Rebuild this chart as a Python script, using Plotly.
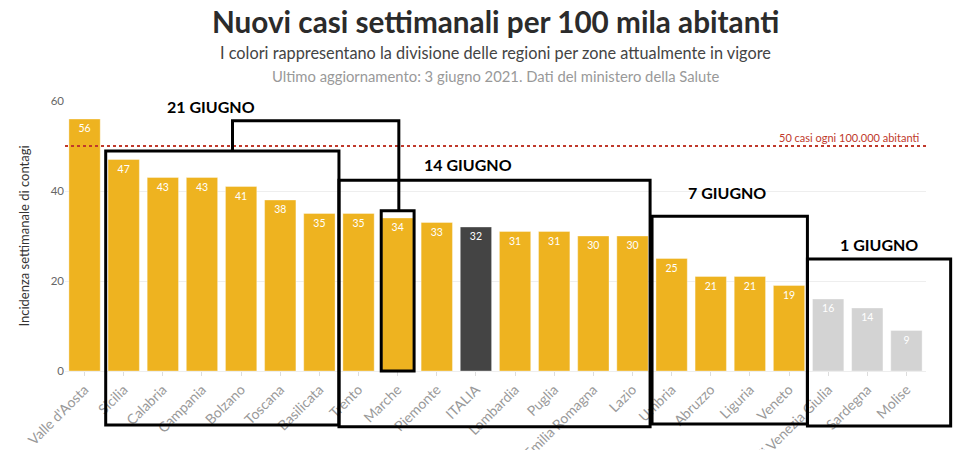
import plotly.graph_objects as go

# Incidenza settimanale per 100 mila abitanti (3 giugno 2021)
regioni = ["Valle d'Aosta", "Sicilia", "Calabria", "Campania", "Bolzano", "Toscana",
           "Basilicata", "Trento", "Marche", "Piemonte", "ITALIA", "Lombardia", "Puglia",
           "Emilia Romagna", "Lazio", "Umbria", "Abruzzo", "Liguria", "Veneto",
           "Friuli Venezia Giulia", "Sardegna", "Molise"]
incidenza = [56, 47, 43, 43, 41, 38, 35, 35, 34, 33, 32, 31, 31, 30, 30, 25, 21, 21, 19, 16, 14, 9]
zona = ["gialla"] * 10 + ["italia"] + ["gialla"] * 8 + ["bianca"] * 3

colori_zona = {"gialla": "#EEB320", "italia": "#444444", "bianca": "#D3D3D3"}
colori = [colori_zona[z] for z in zona]

soglia = 50
y_max = 60

# riquadri disegnati a mano sul grafico: (indice sinistro, indice destro, y alto, y basso)
riquadri = {
    "21 GIUGNO": (0.54, 6.5, 48.9, -12.0),
    "14 GIUGNO": (6.5, 14.45, 42.4, -12.4),
    "7 GIUGNO": (14.5, 18.47, 34.4, -11.8),
    "1 GIUGNO": (18.47, 22.13, 24.9, -12.2),
}
# posizione delle etichette dei riquadri (indice, y)
etichette = {
    "21 GIUGNO": (3.22, 58.7),
    "14 GIUGNO": (9.8, 46.0),
    "7 GIUGNO": (16.42, 39.6),
    "1 GIUGNO": (20.31, 28.2),
}
n = len(regioni)


def fx(i):
    # indice categoria -> frazione del dominio x (asse da -0.5 a n-0.5)
    return (i + 0.5) / n


def fy(v):
    return v / y_max


fig = go.Figure(go.Bar(
    x=regioni,
    y=incidenza,
    marker=dict(color=colori, line=dict(color="rgba(255,255,255,0.35)", width=1)),
    width=0.8,
    text=incidenza,
    textposition="inside",
    insidetextanchor="end",
    textfont=dict(color="white", size=10.5),
    hoverinfo="x+y",
))

shapes = [dict(type="line", xref="x domain", yref="y", x0=0, x1=1, y0=soglia, y1=soglia,
               line=dict(color="#C0392B", width=2, dash="dot"), layer="above")]
for nome, (x0, x1, y0, y1) in riquadri.items():
    shapes.append(dict(type="rect", xref="x domain", yref="y domain",
                       x0=fx(x0), x1=fx(x1), y0=fy(y1), y1=fy(y0),
                       line=dict(color="black", width=3)))

# riquadro Marche e collegamento con il riquadro del 21 giugno
marche = regioni.index("Marche")
shapes.append(dict(type="rect", xref="x domain", yref="y domain",
                   x0=fx(marche - 0.42), x1=fx(marche + 0.42), y0=fy(0), y1=fy(35.6),
                   line=dict(color="black", width=3)))
shapes.append(dict(type="path", xref="paper", yref="paper",
                   path="M {0},{1} L {0},{2} L {3},{2} L {3},{4}".format(
                       fx(3.78), fy(48.9), fy(55.6), fx(marche + 0.03), fy(35.6)),
                   line=dict(color="black", width=3)))

annotations = [
    dict(text="<b>Nuovi casi settimanali per 100 mila abitanti</b>", xref="paper", yref="paper",
         x=0.5, y=1.293, yanchor="middle", showarrow=False,
         font=dict(size=29.7, color="#2b2b2b")),
    dict(text="I colori rappresentano la divisione delle regioni per zone attualmente in vigore",
         xref="paper", yref="paper", x=0.5, y=1.181, yanchor="middle", showarrow=False,
         font=dict(size=16.3, color="#444444")),
    dict(text="Ultimo aggiornamento: 3 giugno 2021. Dati del ministero della Salute",
         xref="paper", yref="paper", x=0.5, y=1.093, yanchor="middle", showarrow=False,
         font=dict(size=14.8, color="#999999")),
    dict(text="50 casi ogni 100.000 abitanti", xref="paper", yref="y", x=0.994, y=soglia,
         xanchor="right", yanchor="bottom", showarrow=False,
         font=dict(size=11, color="#C0392B")),
]
for nome, (xi, yv) in etichette.items():
    annotations.append(dict(text="<b>" + nome + "</b>", x=xi, y=yv, xref="x", yref="y",
                            showarrow=False, font=dict(size=16, color="black")))

# la pagina ha 8px di margine: i margini lo compensano
fig.update_layout(
    width=980, height=450,
    margin=dict(l=57, r=62, t=93, b=87),
    paper_bgcolor="white", plot_bgcolor="white",
    font=dict(family="Lato, Open Sans, sans-serif", color="#333333"),
    showlegend=False,
    bargap=0.2,
    shapes=shapes,
    annotations=annotations,
    xaxis=dict(tickangle=-45, tickfont=dict(size=14, color="#999999"),
               ticks="outside", ticklen=4, tickcolor="#dddddd",
               showline=True, linecolor="#eeeeee", linewidth=1,
               range=[-0.5, n - 0.5], automargin=False),
    yaxis=dict(range=[0, y_max], dtick=20, gridcolor="#eeeeee", zeroline=False,
               tickfont=dict(size=11.5, color="#666666"), automargin=False,
               title=dict(text="Incidenza settimanale di contagi", standoff=18,
                          font=dict(size=13, color="#333333"))),
)

fig.write_html("out.html")
